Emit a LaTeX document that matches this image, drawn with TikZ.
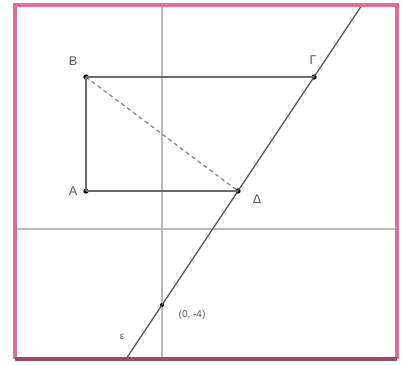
\documentclass[tikz,border=0pt]{standalone}
\usepackage{fontspec}
\setmainfont{Liberation Sans}
\begin{document}
\begin{tikzpicture}[x=0.5cm,y=0.5cm,
  axis/.style={draw=gray!55,line width=0.9pt},
  side/.style={draw=gray!85!black,line width=1.1pt},
  pt/.style={circle,fill=black,inner sep=0pt,minimum size=4pt},
  lbl/.style={text=gray!70!black,font=\fontsize{9.5}{10}\selectfont,inner sep=0pt},
  small/.style={text=gray!70!black,font=\fontsize{7.5}{9}\selectfont,inner sep=0pt}]
\definecolor{framepink}{HTML}{D8709A}
\definecolor{framedark}{HTML}{9A4A6A}
\useasboundingbox[fill=white] (-8.526,-7.105) rectangle (12.789,12.053);
% frame corners
\coordinate (FL) at (-7.737,-6.842);
\coordinate (FR) at (12.368,-6.842);
\coordinate (TR) at (12.368,11.789);
\coordinate (TL) at (-7.737,11.789);
% axes
\coordinate (xl) at (-7.737,0);
\coordinate (xr) at (12.368,0);
\coordinate (yb) at (0,-6.842);
\coordinate (yt) at (0,11.789);
\draw[axis] (xl) -- (xr);
\draw[axis] (yb) -- (yt);
% points
\node[pt] (A) at (-4,2) {};
\node[pt] (B) at (-4,8) {};
\node[pt] (G) at (8,8) {};
\node[pt] (D) at (4,2) {};
\node[pt,minimum size=3pt] (P) at (0,-4) {};
% line epsilon
\coordinate (e1) at (-1.895,-6.842);
\coordinate (e2) at (10.526,11.789);
\draw[side,draw=gray!60!black,line width=0.9pt] (e1) -- (e2);
% rectangle sides
\draw[side,line width=1.6pt] (A.center) -- (B.center);
\draw[side] (B.center) -- (G.center);
\draw[side] (A.center) -- (D.center);
\draw[draw=gray,line width=0.9pt,dash pattern=on 3pt off 2.5pt] (B.center) -- (D.center);
% labels
\node[lbl] (lB) at (-4.68,8.84) {Β};
\node[lbl] (lA) at (-4.68,2.0) {Α};
\node[lbl] (lG) at (7.95,8.89) {Γ};
\node[lbl] (lD) at (5.0,1.58) {Δ};
\node[small] (lP) at (1.58,-4.53) {(0, -4)};
\node[small] (le) at (-2.1,-5.68) {ε};
% frame
\draw[framepink,line width=2.4pt] (FL) -- (TL) -- (TR) -- (FR);
\draw[framedark,line width=2.4pt] (FL) -- (FR);
\end{tikzpicture}
\end{document}
